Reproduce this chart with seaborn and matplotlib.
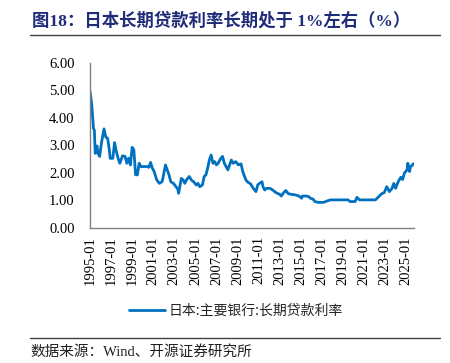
"""
Japan long-term prime lending rate, 1995-2025.
"""

import pandas as pd
import matplotlib.pyplot as plt
import matplotlib.dates as mdates
import seaborn as sns

months = [
    "1995-01", "1995-03", "1995-05", "1995-06", "1995-07", "1995-09", "1995-10", "1995-12",
    "1996-02", "1996-05", "1996-07", "1996-09", "1996-11", "1996-12",
    "1997-03", "1997-05", "1997-07", "1997-09", "1997-11",
    "1998-02", "1998-05", "1998-07", "1998-09", "1998-11",
    "1999-01", "1999-03", "1999-05", "1999-07", "1999-09", "1999-11",
    "2000-02", "2000-07", "2000-08", "2000-10", "2000-12",
    "2001-02", "2001-05", "2001-08", "2001-11", "2001-12",
    "2002-03", "2002-05", "2002-07", "2002-09", "2002-12",
    "2003-03", "2003-05", "2003-06", "2003-09", "2003-11",
    "2004-01", "2004-03", "2004-06", "2004-09", "2004-11",
    "2005-02", "2005-04", "2005-06", "2005-09", "2005-11",
    "2006-01", "2006-03", "2006-05", "2006-07", "2006-09", "2006-11",
    "2007-01", "2007-03", "2007-06", "2007-08", "2007-10",
    "2008-02", "2008-06", "2008-08", "2008-11",
    "2009-02", "2009-05", "2009-07", "2009-09", "2009-11",
    "2010-01", "2010-04", "2010-07", "2010-10", "2010-12",
    "2011-02", "2011-05", "2011-06", "2011-08", "2011-10",
    "2012-02", "2012-05", "2012-09",
    "2013-01", "2013-03", "2013-05", "2013-08", "2013-11",
    "2014-03", "2014-07", "2014-11",
    "2015-02", "2015-03", "2015-07", "2015-10", "2015-12",
    "2016-03", "2016-05", "2016-09",
    "2017-03", "2017-07", "2017-11",
    "2019-07", "2019-09",
    "2020-03", "2020-05", "2020-08",
    "2022-02", "2022-06", "2022-09", "2022-12",
    "2023-03", "2023-06", "2023-09", "2023-11",
    "2024-01", "2024-04", "2024-07", "2024-09", "2024-11",
    "2025-02", "2025-03", "2025-05", "2025-06", "2025-08", "2025-09",
]
rates = [
    4.96, 4.50, 3.62, 3.55, 2.71, 2.98, 2.72, 2.60,
    3.08, 3.60, 3.30, 3.26, 2.84, 2.53,
    2.53, 3.10, 2.78, 2.53, 2.35,
    2.62, 2.60, 2.35, 2.53, 2.29,
    2.93, 2.84, 1.93, 1.93, 2.35, 2.23,
    2.23, 2.23, 2.20, 2.38, 2.17,
    2.05, 1.75, 1.62, 1.68, 1.80,
    2.29, 2.11, 1.93, 1.68, 1.62,
    1.50, 1.41, 1.26, 1.80, 1.75,
    1.62, 1.75, 1.87, 1.72, 1.68,
    1.56, 1.62, 1.50, 1.56, 1.87,
    1.93, 2.17, 2.47, 2.65, 2.35, 2.41,
    2.29, 2.35, 2.53, 2.60, 2.35,
    2.11, 2.47, 2.35, 2.41,
    2.29, 2.33, 2.05, 1.87, 1.72,
    1.66, 1.60, 1.44, 1.32, 1.56,
    1.62, 1.68, 1.50, 1.38, 1.44,
    1.44, 1.38, 1.28,
    1.22, 1.16, 1.26, 1.36, 1.24,
    1.22, 1.20, 1.16,
    1.08, 1.16, 1.16, 1.14, 1.08,
    1.05, 0.96, 0.93,
    0.93, 0.98, 1.02,
    1.02, 0.96,
    0.96, 1.11, 1.02,
    1.02, 1.14, 1.24, 1.28,
    1.50, 1.32, 1.44, 1.62,
    1.44, 1.68, 1.84, 1.76, 1.99,
    2.11, 2.35, 2.05, 2.23, 2.27, 2.33,
]
tick_years = list(range(1995, 2026, 2))
y_ticks = [0, 1, 2, 3, 4, 5, 6]

series_name = "日本:主要银行:长期贷款利率"
title = "图18：日本长期贷款利率长期处于 1%左右（%）"
source = "数据来源：Wind、开源证券研究所"

sns.set_style("white")
plt.rcParams["font.family"] = ["Liberation Serif", "Noto Sans CJK SC"]

df = pd.DataFrame({"date": pd.to_datetime(months), "rate": rates})

fig = plt.figure(figsize=(4.5, 3.63), dpi=100)
ax = fig.add_axes([0.2, 0.372, 0.72, 0.455])

sns.lineplot(data=df, x="date", y="rate", color="#0070C0", linewidth=2.0,
             label=series_name, ax=ax)

ax.set_xlim(pd.Timestamp("1995-01-01"), pd.Timestamp("2025-10-01"))
ax.set_ylim(0, 6)
ax.set_yticks(y_ticks)
ax.yaxis.set_major_formatter(plt.FormatStrFormatter("%.2f"))
ax.set_xticks([pd.Timestamp(f"{y}-01-01") for y in tick_years])
ax.xaxis.set_major_formatter(mdates.DateFormatter("%Y-%m"))
ax.set_xlabel("")
ax.set_ylabel("")

for side in ["top", "right"]:
    ax.spines[side].set_visible(False)
for side in ["left", "bottom"]:
    ax.spines[side].set_color("#808080")
    ax.spines[side].set_linewidth(1.0)
ax.tick_params(axis="both", direction="in", length=4, color="#808080",
               labelsize=10.5, labelcolor="black")
ax.tick_params(axis="x", rotation=90, pad=6)
ax.tick_params(axis="y", pad=11)

leg = ax.legend(loc="upper center", bbox_to_anchor=(0.45, -0.385), frameon=False,
                handlelength=2.6, handletextpad=0.3,
                prop={"family": ["Noto Sans CJK SC"], "size": 10})

# title, rules and source
fig.text(0.07, 0.942, title, fontsize=12.5, fontweight="bold", color="#1F2C7A",
         family=["Liberation Serif", "Noto Sans CJK SC"], va="center")
fig.add_artist(plt.Line2D([0.067, 0.978], [0.903, 0.903], color="#404040", linewidth=1.0))
fig.add_artist(plt.Line2D([0.067, 0.978], [0.069, 0.069], color="#404040", linewidth=1.0))
fig.text(0.067, 0.03, source, fontsize=10.5, color="#202020",
         family=["Liberation Serif", "Noto Sans CJK SC"], va="center")

fig.savefig("out.png", dpi=100)
